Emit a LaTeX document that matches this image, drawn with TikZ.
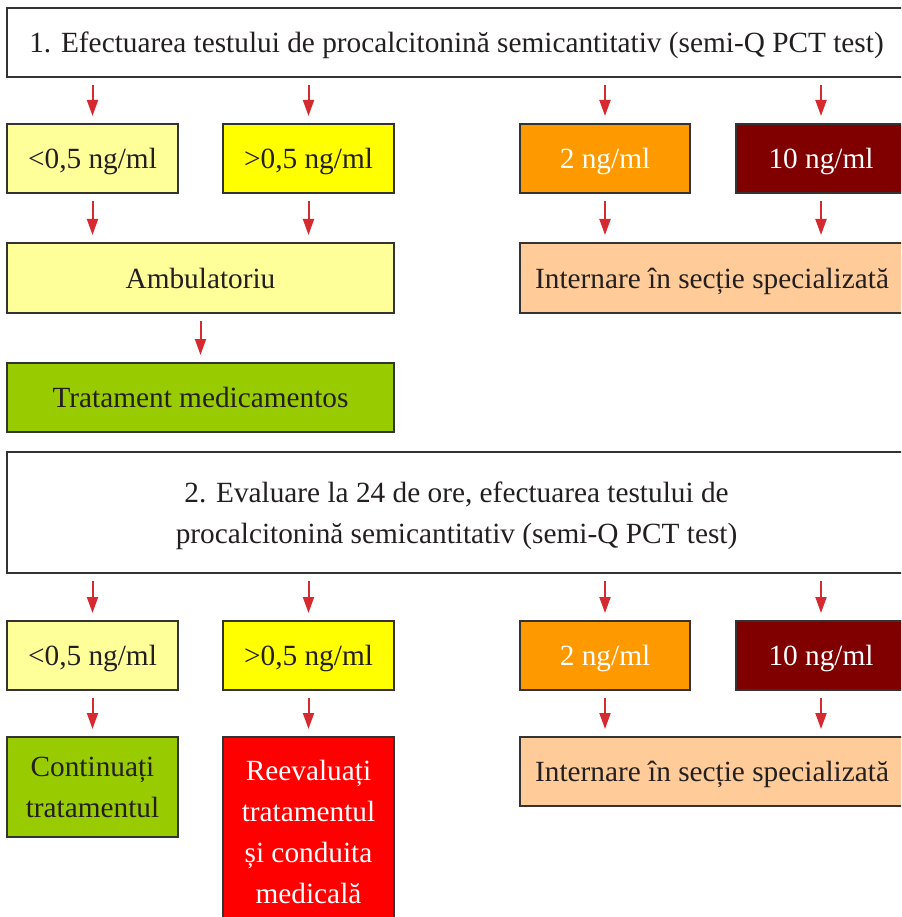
\documentclass[tikz,border=0pt]{standalone}
\usepackage{fontspec}
\setmainfont{Liberation Serif}
\usetikzlibrary{arrows.meta}
\definecolor{bordc}{HTML}{333333}
\definecolor{txtc}{HTML}{231F20}
\definecolor{arrc}{HTML}{D42A30}
\definecolor{lyel}{HTML}{FFFF99}
\definecolor{yel}{HTML}{FFFF00}
\definecolor{ora}{HTML}{FF9900}
\definecolor{maro}{HTML}{800000}
\definecolor{peach}{HTML}{FFCC99}
\definecolor{grn}{HTML}{99CC00}
\definecolor{rd}{HTML}{FF0000}
\newcommand{\fsz}{\fontsize{29.3pt}{41pt}\selectfont}
\begin{document}
\begin{tikzpicture}[x=1pt,y=-1pt,
  box/.style={draw=bordc, line width=2pt, inner sep=0pt, text=txtc, font=\fsz, align=center, text depth=0pt},
  wbox/.style={box, text=white},
  arr/.style={draw=arrc, line width=2pt, -{Triangle[width=11pt,length=16pt]}, shorten <=7pt, shorten >=7pt}]
\clip (0,0) rectangle (901,917);
% section 1
\node[box, fill=white, minimum width=899pt, minimum height=69pt] (top1) at (456.5,42.5)
  {1. Efectuarea testului de procalcitonină semicantitativ (semi-Q PCT test)};
\node[box, fill=lyel, minimum width=171pt, minimum height=69pt] (a1) at (92.5,158.5) {<0,5 ng/ml};
\node[box, fill=yel, minimum width=171pt, minimum height=69pt] (a2) at (308.5,158.5) {>0,5 ng/ml};
\node[wbox, fill=ora, minimum width=170pt, minimum height=69pt] (a3) at (605,158.5) {2 ng/ml};
\node[wbox, fill=maro, minimum width=170pt, minimum height=69pt] (a4) at (821,158.5) {10 ng/ml};
\node[box, fill=lyel, minimum width=387pt, minimum height=70pt] (amb) at (200.5,278) {Ambulatoriu};
\node[box, fill=peach, minimum width=384pt, minimum height=70pt] (int1) at (712,278) {Internare în secție specializată};
\node[box, fill=grn, minimum width=387pt, minimum height=69pt] (trat) at (200.5,397.5) {Tratament medicamentos};
% section 2
\node[box, fill=white, minimum width=899pt, minimum height=121pt] (top2) at (456.5,512.5)
  {2. Evaluare la 24 de ore, efectuarea testului de\\procalcitonină semicantitativ (semi-Q PCT test)};
\node[box, fill=lyel, minimum width=171pt, minimum height=69pt] (b1) at (92.5,655.5) {<0,5 ng/ml};
\node[box, fill=yel, minimum width=171pt, minimum height=69pt] (b2) at (308.5,655.5) {>0,5 ng/ml};
\node[wbox, fill=ora, minimum width=170pt, minimum height=69pt] (b3) at (605,655.5) {2 ng/ml};
\node[wbox, fill=maro, minimum width=170pt, minimum height=69pt] (b4) at (821,655.5) {10 ng/ml};
\node[box, fill=grn, minimum width=171pt, minimum height=100pt] (cont) at (92.5,787) {Continuați\\tratamentul};
\node[wbox, fill=rd, minimum width=171pt, minimum height=190pt] (reev) at (308.5,832) {Reevaluați\\tratamentul\\și conduita\\medicală};
\node[box, fill=peach, minimum width=384pt, minimum height=69pt] (int2) at (712,771.5) {Internare în secție specializată};
% arrows section 1
\foreach \n in {a1,a2,a3,a4} \draw[arr] (top1.south -| \n.north) -- (\n.north);
\draw[arr] (a1.south) -- (a1.south |- amb.north);
\draw[arr] (a2.south) -- (a2.south |- amb.north);
\draw[arr] (a3.south) -- (a3.south |- int1.north);
\draw[arr] (a4.south) -- (a4.south |- int1.north);
\draw[arr] (amb.south) -- (trat.north);
% arrows section 2
\foreach \n in {b1,b2,b3,b4} \draw[arr] (top2.south -| \n.north) -- (\n.north);
\draw[arr] (b1.south) -- (cont.north);
\draw[arr] (b2.south) -- (reev.north);
\draw[arr] (b3.south) -- (b3.south |- int2.north);
\draw[arr] (b4.south) -- (b4.south |- int2.north);
\end{tikzpicture}
\end{document}
